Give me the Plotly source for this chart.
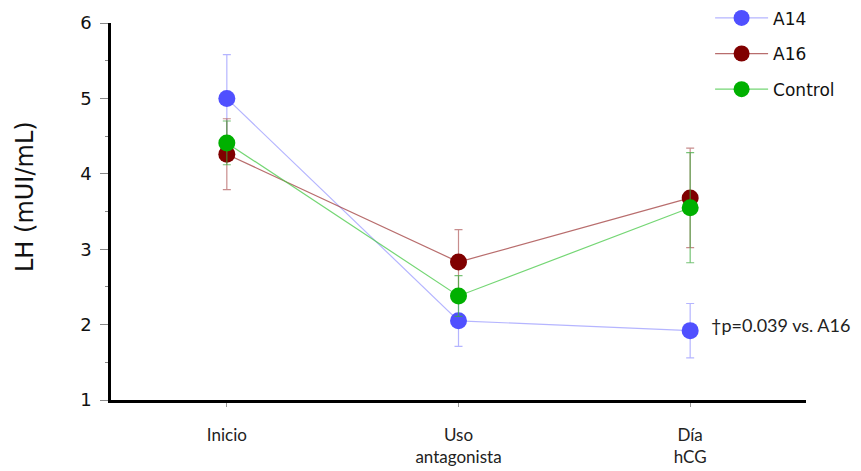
import plotly.graph_objects as go

categories = ["Inicio", "Uso<br>antagonista", "Día<br>hCG"]
series_names = ["A14", "A16", "Control"]
a14_mean = [5.00, 2.05, 1.92]
a14_err = [0.58, 0.34, 0.36]
a16_mean = [4.26, 2.83, 3.68]
a16_err = [0.47, 0.43, 0.66]
control_mean = [4.41, 2.38, 3.55]
control_err = [0.29, 0.27, 0.73]
y_ticks = [1, 2, 3, 4, 5, 6]
annotation_text = "†p=0.039 vs. A16"
y_title = "LH (mUI/mL)"

styles = [
    dict(marker="#5050ff", line="rgba(120,120,255,0.55)", err="rgba(120,120,255,0.55)"),
    dict(marker="#800000", line="rgba(160,60,60,0.75)", err="rgba(170,80,80,0.65)"),
    dict(marker="#00b000", line="rgba(70,200,70,0.75)", err="rgba(60,170,60,0.7)"),
]
means = [a14_mean, a16_mean, control_mean]
errs = [a14_err, a16_err, control_err]

# page body has an 8px default margin; compensate so the plot lands where the reference has it
OFF = 8
W, H = 861 - OFF, 471 - OFF
L, T = 111 - OFF, 23 - OFF
PW, PH = 695, 377
R, B = W - L - PW, H - T - PH

fig = go.Figure()
for i, (name, m, e, s) in enumerate(zip(series_names, means, errs, styles)):
    fig.add_trace(go.Scatter(
        x=categories, y=m, name=name, mode="lines+markers",
        legendgroup=name,
        line=dict(color=s["line"], width=1.2),
        marker=dict(color=s["marker"], size=17, line=dict(width=0)),
        error_y=dict(type="data", array=e, visible=True, color=s["err"],
                     thickness=1.2, width=4),
    ))

fig.add_annotation(
    x=categories[2], y=a14_mean[2], xref="x", yref="y",
    text=annotation_text, showarrow=False, xanchor="left", yanchor="middle",
    xshift=19, yshift=6,
    font=dict(family="Lato", size=18, color="#222222"),
)
fig.add_annotation(
    x=(25 - 111) / PW, y=(400 - 197) / PH, xref="paper", yref="paper",
    text=y_title, showarrow=False, xanchor="center", yanchor="middle",
    textangle=-90, font=dict(family="DejaVu Sans", size=24, color="#111111"),
)

fig.update_layout(
    width=W, height=H,
    margin=dict(l=L, r=R, t=T, b=B, autoexpand=False),
    plot_bgcolor="white", paper_bgcolor="white",
    showlegend=True,
    legend=dict(x=0.862, y=1.06, xanchor="left", yanchor="top",
                font=dict(family="DejaVu Sans", size=17, color="#111111"),
                tracegroupgap=10.5, bgcolor="rgba(0,0,0,0)",
                itemwidth=53),
)
fig.update_xaxes(
    type="category", range=[-0.5, 2.5],
    showline=True, linecolor="black", linewidth=2.5,
    showgrid=False, zeroline=False,
    ticks="outside", ticklen=4, tickcolor="#999999", tickwidth=1,
    ticklabelstandoff=14,
    tickfont=dict(family="Lato", size=17, color="#222222"),
)
fig.update_yaxes(
    range=[1, 6], tickvals=y_ticks,
    showline=True, linecolor="black", linewidth=2.5,
    showgrid=False, zeroline=False,
    ticks="outside", ticklen=8, tickcolor="#888888", tickwidth=1,
    minor=dict(ticks="outside", ticklen=3, tickcolor="#888888", dtick=0.5, showgrid=False),
    ticklabelstandoff=5,
    tickfont=dict(family="DejaVu Sans", size=18, color="#111111"),
)

fig.write_html("out.html")
